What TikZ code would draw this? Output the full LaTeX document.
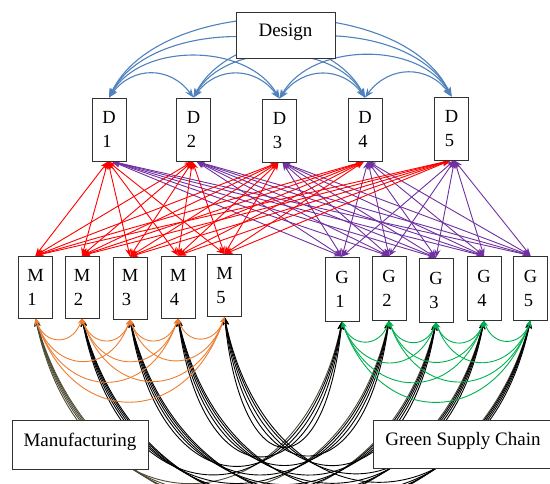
\documentclass[tikz,border=0pt]{standalone}
\usepackage{fontspec}
\setmainfont{Liberation Serif}
\usetikzlibrary{arrows.meta}
\pgfdeclarelayer{bg}
\pgfsetlayers{bg,main}
\definecolor{dblue}{RGB}{79,129,189}
\definecolor{dred}{RGB}{255,0,0}
\definecolor{dpurple}{RGB}{112,48,160}
\definecolor{dorange}{RGB}{237,125,49}
\definecolor{dgreen}{RGB}{0,176,80}
\definecolor{dolive}{RGB}{78,75,52}
\definecolor{boxline}{RGB}{50,50,50}
\begin{document}
\begin{tikzpicture}[x=1pt,y=-1pt,
  smallbox/.style={draw=boxline, line width=0.9pt, fill=white, minimum width=34pt, minimum height=63pt, inner sep=0pt, align=left, font=\fontsize{18.5}{24}\selectfont},
  bigbox/.style={draw=boxline, line width=0.9pt, fill=white, inner sep=0pt, font=\fontsize{19}{23}\selectfont, text height=13pt, text depth=10pt},
  bluearc/.style={draw=dblue, line width=1.1pt, >={Stealth[length=9pt,width=7pt]}, <->},
  redline/.style={draw=dred, line width=0.9pt, >={Stealth[length=8pt,width=6pt]}, <->},
  purpleline/.style={draw=dpurple, line width=0.9pt, >={Stealth[length=8pt,width=6pt]}, <->},
  orangearc/.style={draw=dorange, line width=0.9pt, >={Stealth[length=6pt,width=5pt]}, <->},
  greenarc/.style={draw=dgreen, line width=0.9pt, >={Stealth[length=6pt,width=5pt]}, <->},
  blackarc/.style={draw=black, line width=0.9pt, >={Stealth[length=8pt,width=6pt]}, <->},
  olivearc/.style={draw=dolive, line width=0.9pt, >={Stealth[length=8pt,width=6pt]}, <->}
]
\useasboundingbox (0,0) rectangle (550,483);

% nodes
\node[bigbox, minimum width=99pt, minimum height=46pt] (design) at (285.5,35) {Design};
\foreach \n/\x/\y in {1/109/129.5, 2/193.5/129.5, 3/279.5/130.5, 4/365/129.5, 5/451.5/128.5}
  \node[smallbox] (D\n) at (\x,\y) {D\\\n};
\foreach \n/\x/\y in {1/35.5/287, 2/82/287, 3/130/288, 4/178/287, 5/224.5/285.5}
  \node[smallbox, minimum height=62pt] (M\n) at (\x,\y) {M\\\n};
\foreach \n/\x/\y in {1/342/289, 2/389/288.5, 3/436/290, 4/484/288.5, 5/530.5/288}
  \node[smallbox, minimum height=64pt] (G\n) at (\x,\y) {G\\\n};
\node[bigbox, minimum width=136pt, minimum height=49pt] (manu) at (80,444.5) {Manufacturing};
\node[bigbox, minimum width=180pt, minimum height=48pt] (gsc) at (463,444) {Green Supply Chain};

\begin{pgfonlayer}{bg}
% blue arcs between D nodes
\foreach \i/\xi in {1/109, 2/193.5, 3/279.5, 4/365, 5/451.5}{
  \foreach \j/\xj in {1/109, 2/193.5, 3/279.5, 4/365, 5/451.5}{
    \ifnum\j>\i
      \pgfmathsetmacro\spn{\xj-\xi}
      \draw[bluearc] (D\i.north) .. controls +(0.1*\spn+15, -0.28*\spn-8) and +(-0.1*\spn-15, -0.28*\spn-8) .. (D\j.north);
    \fi
  }
}
% black curves M -> G
\foreach \i/\xi in {1/35.5, 2/82, 3/130, 4/178, 5/224.5}{
  \foreach \j/\xj in {1/342, 2/389, 3/436, 4/484, 5/530.5}{
    \pgfmathsetmacro\spn{\xj-\xi}
    \ifnum\i=1
      \draw[olivearc] (M\i.south) .. controls +(0.15*\spn, 140+0.25*\spn) and +(-0.15*\spn, 140+0.25*\spn) .. (G\j.south);
    \else
      \draw[blackarc] (M\i.south) .. controls +(0.15*\spn, 140+0.25*\spn) and +(-0.15*\spn, 140+0.25*\spn) .. (G\j.south);
    \fi
  }
}
% orange arcs between M nodes
\foreach \i/\xi in {1/35.5, 2/82, 3/130, 4/178, 5/224.5}{
  \foreach \j/\xj in {1/35.5, 2/82, 3/130, 4/178, 5/224.5}{
    \ifnum\j>\i
      \pgfmathsetmacro\spn{\xj-\xi}
      \draw[orangearc] (M\i.south) .. controls +(0.2*\spn, 0.59*\spn) and +(-0.2*\spn, 0.59*\spn) .. (M\j.south);
    \fi
  }
}
% green arcs between G nodes
\foreach \i/\xi in {1/342, 2/389, 3/436, 4/484, 5/530.5}{
  \foreach \j/\xj in {1/342, 2/389, 3/436, 4/484, 5/530.5}{
    \ifnum\j>\i
      \pgfmathsetmacro\spn{\xj-\xi}
      \draw[greenarc] (G\i.south) .. controls +(0.2*\spn, 0.57*\spn) and +(-0.2*\spn, 0.57*\spn) .. (G\j.south);
    \fi
  }
}
% red lines D -> M, purple lines D -> G
\foreach \i in {1,...,5}{
  \foreach \j in {1,...,5}{
    \draw[redline] ([xshift=-1pt]D\i.south) -- (M\j.north);
    \draw[purpleline] ([xshift=3pt]D\i.south) -- (G\j.north);
  }
}
\end{pgfonlayer}
\end{tikzpicture}
\end{document}
